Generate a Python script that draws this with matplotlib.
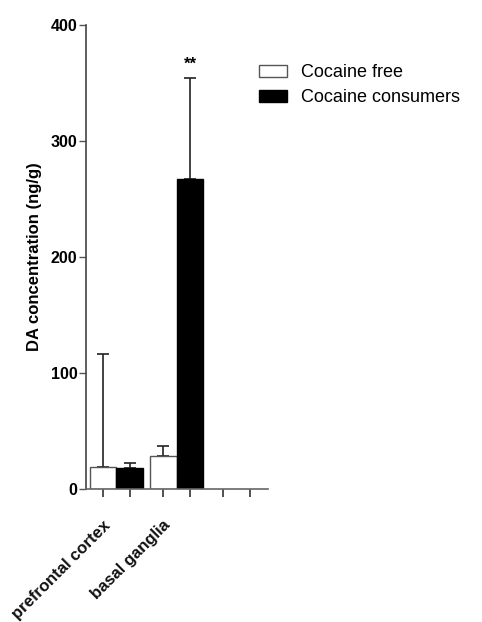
"""DA concentration bar chart"""
import matplotlib
matplotlib.use("Agg")
import matplotlib.pyplot as plt
import numpy as np

plt.rcParams['font.family'] = ['Liberation Sans', 'DejaVu Sans']

regions = ["prefrontal cortex", "basal ganglia", ""]
free_mean = [19, 28, 0]
free_err = [97, 9, 0]
cons_mean = [18, 267, 0]
cons_err = [4, 87, 0]
series_names = ["Cocaine free", "Cocaine consumers"]


def main():
    fig = plt.figure(figsize=(4.82, 6.22), dpi=100)
    ax = fig.add_axes([0.178, 0.214, 0.378, 0.746])

    x = np.arange(len(regions))
    w = 0.444
    n = 2  # only first two groups have data
    ax.bar(x[:n] - w / 2, free_mean[:n], w, color="white", edgecolor="#555555",
           linewidth=1.0, label=series_names[0], zorder=2)
    ax.bar(x[:n] + w / 2, cons_mean[:n], w, color="black", edgecolor="black",
           linewidth=1.0, label=series_names[1], zorder=2)
    ax.errorbar(x[:n] - w / 2, free_mean[:n], yerr=[np.zeros(n), free_err[:n]],
                fmt="none", ecolor="#222222", elinewidth=1.2, capsize=4.5,
                capthick=1.2, zorder=1)
    ax.errorbar(x[:n] + w / 2, cons_mean[:n], yerr=[np.zeros(n), cons_err[:n]],
                fmt="none", ecolor="#222222", elinewidth=1.2, capsize=4.5,
                capthick=1.2, zorder=1)
    ax.text(x[1] + w / 2, cons_mean[1] + cons_err[1] + 6, "**",
            ha="center", va="bottom", fontsize=12, fontweight="bold")

    ax.set_xlim(-0.51, 2.52)
    ax.set_ylim(0, 400)
    ax.set_yticks([0, 100, 200, 300, 400])
    ax.set_xticks(np.concatenate([x - w / 2, x + w / 2]))
    ax.set_xticklabels([])
    for xi, lab in zip(x, regions):
        ax.text(xi - 0.23, -0.062, lab, transform=ax.get_xaxis_transform(),
                rotation=45, ha="right", va="top", rotation_mode="anchor",
                fontsize=12, fontweight="bold", color="#111111")

    for s in ["top", "right"]:
        ax.spines[s].set_visible(False)
    ax.spines["left"].set_color("#444444")
    ax.spines["bottom"].set_color("#666666")
    ax.spines["left"].set_linewidth(1.2)
    ax.spines["bottom"].set_linewidth(1.2)
    ax.tick_params(axis="x", length=6, width=1.2, color="#333333")
    ax.tick_params(axis="y", length=5, width=1.0, color="#555555",
                   labelsize=11.5, pad=1)
    for t in ax.get_yticklabels():
        t.set_fontweight("bold")
    ax.set_ylabel("DA concentration (ng/g)", fontsize=12, fontweight="bold",
                  labelpad=6)

    ax.legend(loc="upper left", bbox_to_anchor=(0.86, 0.95), frameon=False,
              fontsize=13, handlelength=1.55, handleheight=0.6,
              handletextpad=0.8, labelspacing=0.45)

    fig.savefig("out.png", dpi=100)


if __name__ == '__main__':
    main()
